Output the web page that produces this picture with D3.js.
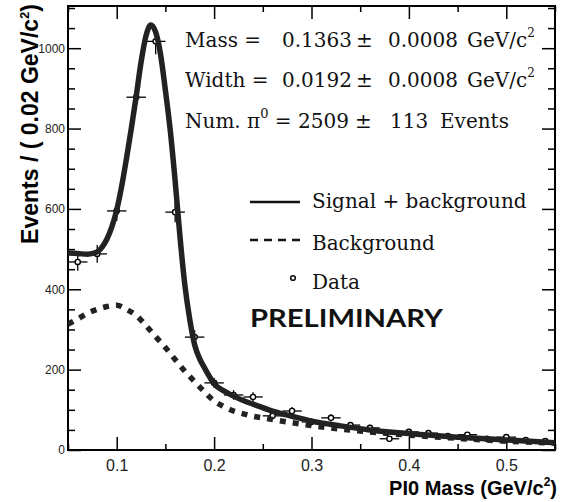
<!DOCTYPE html>
<html>
<head>
<meta charset="utf-8">
<script src="https://cdn.jsdelivr.net/npm/d3@7"></script>
<style>
  body { margin: 0; background: #fff; }
  svg { display: block; }
</style>
</head>
<body>
<svg id="chart"></svg>
<script>
// binned data (bin width 0.02 GeV/c2)
const binCenters = [0.06, 0.08, 0.10, 0.12, 0.14, 0.16, 0.18, 0.20, 0.22, 0.24, 0.26, 0.28, 0.30,
                    0.32, 0.34, 0.36, 0.38, 0.40, 0.42, 0.44, 0.46, 0.48, 0.50, 0.52, 0.54];
const binCounts  = [468, 488, 595, 878, 1017, 592, 281, 167, 137, 132, 85, 97, 70,
                    80, 62, 55, 28, 45, 42, 35, 38, 28, 32, 25, 22];
const binErrors  = [22, 22, 25, 30, 32, 25, 17, 13, 12, 12, 10, 10, 9,
                    9, 8, 8, 7, 7, 7, 7, 6, 6, 6, 6, 5];

// fit curves
const fitX   = [0.05, 0.06, 0.07, 0.08, 0.085, 0.09, 0.095, 0.10, 0.105, 0.11, 0.115, 0.12, 0.125,
                0.13, 0.135, 0.14, 0.145, 0.15, 0.155, 0.16, 0.165, 0.17, 0.175, 0.18, 0.185,
                0.19, 0.20, 0.21, 0.22, 0.23, 0.24, 0.26, 0.28, 0.30, 0.33, 0.36, 0.40, 0.45, 0.50, 0.55];
const fitSig = [490, 489, 487, 493, 505, 525, 555, 597, 655, 725, 800, 880, 965,
                1030, 1058, 1040, 985, 895, 795, 670, 530, 410, 325, 262, 228,
                205, 165, 147, 134, 123, 114, 97, 84, 72, 60, 50, 41, 32, 25, 18];

const bkgX   = [0.05, 0.06, 0.07, 0.08, 0.09, 0.10, 0.11, 0.12, 0.13, 0.14, 0.15, 0.16, 0.17,
                0.18, 0.19, 0.20, 0.21, 0.22, 0.23, 0.24, 0.26, 0.28, 0.30, 0.33, 0.36, 0.40, 0.45, 0.50, 0.55];
const bkgY   = [313, 326, 340, 350, 357, 360, 350, 335, 310, 282, 255, 225, 196,
                170, 145, 122, 108, 97, 90, 84, 76, 68, 61, 52, 45, 37, 29, 22, 17];

const xMajor = [0.1, 0.2, 0.3, 0.4, 0.5];
const yMajor = [0, 200, 400, 600, 800, 1000];

const W = 562, H = 502;
const L = 68, R = 555, T = 6, B = 450;

const svg = d3.select("#chart").attr("width", W).attr("height", H);

const x = d3.scaleLinear().domain([0.05, 0.55]).range([L, R]);
const y = d3.scaleLinear().domain([0, 1105]).range([B, T]);

const xMinor = d3.range(0.05, 0.551, 0.05).filter(v => !xMajor.some(m => Math.abs(m - v) < 1e-6));
const yMinor = d3.range(0, 1105, 50).filter(v => v % 200 !== 0);

// clip for curves
svg.append("clipPath").attr("id", "clip")
  .append("rect").attr("x", L).attr("y", T).attr("width", R - L).attr("height", B - T);

// axes: bottom
const gx = svg.append("g").attr("transform", `translate(0,${B})`)
  .call(d3.axisBottom(x).tickValues(xMajor).tickSize(-13).tickSizeOuter(0).tickPadding(10)
        .tickFormat(d3.format(".1f")));
gx.select(".domain").remove();
gx.selectAll("text").style("font-family", "Liberation Sans, Arial, sans-serif").style("font-size", "16px")
  .attr("fill", "#222");
svg.append("g").attr("transform", `translate(0,${B})`)
  .call(d3.axisBottom(x).tickValues(xMinor).tickSize(-6).tickSizeOuter(0).tickFormat(""))
  .select(".domain").remove();

// top
svg.append("g").attr("transform", `translate(0,${T})`)
  .call(d3.axisTop(x).tickValues(xMajor).tickSize(-13).tickSizeOuter(0).tickFormat(""))
  .select(".domain").remove();
svg.append("g").attr("transform", `translate(0,${T})`)
  .call(d3.axisTop(x).tickValues(xMinor).tickSize(-6).tickSizeOuter(0).tickFormat(""))
  .select(".domain").remove();

// left
const gy = svg.append("g").attr("transform", `translate(${L},0)`)
  .call(d3.axisLeft(y).tickValues(yMajor).tickSize(-13).tickSizeOuter(0).tickPadding(3)
        .tickFormat(d3.format("d")));
gy.select(".domain").remove();
gy.selectAll("text").style("font-family", "Liberation Sans, Arial, sans-serif").style("font-size", "12px")
  .attr("fill", "#222");
svg.append("g").attr("transform", `translate(${L},0)`)
  .call(d3.axisLeft(y).tickValues(yMinor).tickSize(-7).tickSizeOuter(0).tickFormat(""))
  .select(".domain").remove();

// right
svg.append("g").attr("transform", `translate(${R},0)`)
  .call(d3.axisRight(y).tickValues(yMajor).tickSize(-13).tickSizeOuter(0).tickFormat(""))
  .select(".domain").remove();
svg.append("g").attr("transform", `translate(${R},0)`)
  .call(d3.axisRight(y).tickValues(yMinor).tickSize(-7).tickSizeOuter(0).tickFormat(""))
  .select(".domain").remove();

svg.selectAll(".tick line").attr("stroke", "#000").attr("stroke-width", 1.5);

// frame
svg.append("rect")
  .attr("x", L).attr("y", T).attr("width", R - L).attr("height", B - T)
  .attr("fill", "none").attr("stroke", "#000").attr("stroke-width", 2);

const plot = svg.append("g").attr("clip-path", "url(#clip)");

// data points with error bars
const pts = binCenters.map((c, i) => ({ x: c, y: binCounts[i], e: binErrors[i] }));
const pg = plot.selectAll(".pt").data(pts).enter().append("g").attr("class", "pt");
pg.append("line")
  .attr("x1", d => x(d.x - 0.01)).attr("x2", d => x(d.x + 0.01))
  .attr("y1", d => y(d.y)).attr("y2", d => y(d.y))
  .attr("stroke", "#000").attr("stroke-width", 1.3);
pg.append("line")
  .attr("x1", d => x(d.x)).attr("x2", d => x(d.x))
  .attr("y1", d => y(d.y - d.e)).attr("y2", d => y(d.y + d.e))
  .attr("stroke", "#000").attr("stroke-width", 1.3);
pg.append("circle")
  .attr("cx", d => x(d.x)).attr("cy", d => y(d.y)).attr("r", 2.6)
  .attr("fill", "#fff").attr("stroke", "#000").attr("stroke-width", 1.4);

// background curve
const fitLine = d3.line().x(d => x(d[0])).y(d => y(d[1])).curve(d3.curveMonotoneX);
plot.append("path")
  .attr("d", fitLine(bkgX.map((v, i) => [v, bkgY[i]])))
  .attr("fill", "none").attr("stroke", "#222").attr("stroke-width", 5.5)
  .attr("stroke-dasharray", "6,7");

// signal + background curve
plot.append("path")
  .attr("d", fitLine(fitX.map((v, i) => [v, fitSig[i]])))
  .attr("fill", "none").attr("stroke", "#222").attr("stroke-width", 5.5)
  .attr("stroke-linejoin", "round");

// fit results
const serif = "DejaVu Serif, serif";
const stats = svg.append("g").style("font-family", serif).style("font-size", "20px").attr("fill", "#111");
function put(xp, yp, s) { return stats.append("text").attr("x", xp).attr("y", yp).text(s); }
function unit(xp, yp) {
  const t = stats.append("text").attr("x", xp).attr("y", yp).text("GeV/c");
  t.append("tspan").attr("dy", -10).style("font-size", "12px").text("2");
}
put(185, 47, "Mass =");
put(282, 47, "0.1363");
put(356, 47, "±");
put(388, 47, "0.0008");
unit(467, 47);
put(185, 87, "Width =");
put(282, 87, "0.0192");
put(356, 87, "±");
put(388, 87, "0.0008");
unit(467, 87);
const num = put(185, 128, "Num. π");
num.append("tspan").attr("dy", -10).style("font-size", "13px").text("0");
num.append("tspan").attr("dy", 10).text(" = 2509");
put(355, 128, "±");
put(390, 128, "113");
put(440, 128, "Events");

// legend
const lg = svg.append("g");
lg.append("line").attr("x1", 250).attr("x2", 300).attr("y1", 202).attr("y2", 202)
  .attr("stroke", "#111").attr("stroke-width", 2.5);
lg.append("line").attr("x1", 250).attr("x2", 300).attr("y1", 240).attr("y2", 240)
  .attr("stroke", "#111").attr("stroke-width", 2.5).attr("stroke-dasharray", "8,6");
lg.append("circle").attr("cx", 293).attr("cy", 278).attr("r", 2.3)
  .attr("fill", "#fff").attr("stroke", "#111").attr("stroke-width", 1.6);
const legText = [["Signal + background", 208], ["Background", 250], ["Data", 289]];
lg.selectAll(".lt").data(legText).enter().append("text")
  .attr("x", 312).attr("y", d => d[1])
  .style("font-family", serif).style("font-size", "20px").attr("fill", "#111")
  .text(d => d[0]);

svg.append("text").attr("x", 250).attr("y", 327)
  .attr("textLength", 193).attr("lengthAdjust", "spacingAndGlyphs")
  .style("font-family", "Lato, sans-serif").style("font-weight", "bold").style("font-size", "25px")
  .attr("fill", "#111").text("PRELIMINARY");

// axis titles
const xt = svg.append("text").attr("x", 557).attr("y", 495).attr("text-anchor", "end")
  .style("font-family", "Liberation Sans, Arial, sans-serif").style("font-weight", "bold").style("font-size", "20px")
  .text("PI0 Mass (GeV/c");
xt.append("tspan").attr("dy", -9).style("font-size", "12px").text("2");
xt.append("tspan").attr("dy", 9).text(")");

const yt = svg.append("text").attr("transform", "translate(38,4) rotate(-90)").attr("text-anchor", "end")
  .style("font-family", "Liberation Sans, Arial, sans-serif").style("font-weight", "bold").style("font-size", "23px")
  .text("Events / ( 0.02 GeV/c");
yt.append("tspan").attr("dy", -9).style("font-size", "13px").text("2");
yt.append("tspan").attr("dy", 9).text(")");
</script>
</body>
</html>
